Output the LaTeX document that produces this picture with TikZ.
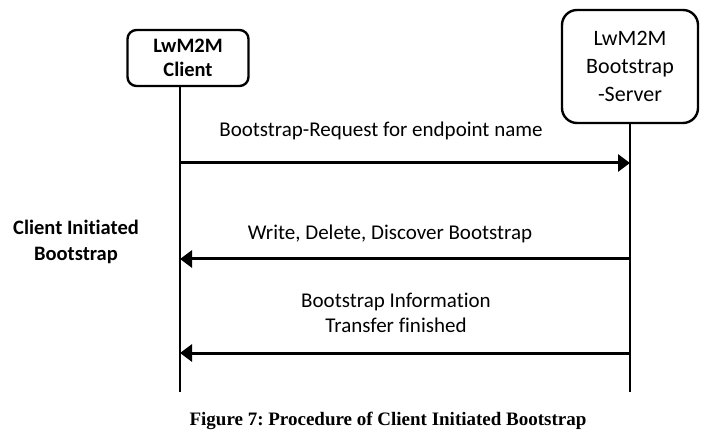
\documentclass[tikz,border=0pt]{standalone}
\usepackage{fontspec}
\setmainfont{Carlito}[Ligatures=NoCommon]
\newfontfamily\captionserif{Liberation Serif}
\usetikzlibrary{arrows.meta,positioning}
\frenchspacing

\begin{document}
\begin{tikzpicture}[x=1pt, y=-1pt, every node/.style={font=\fontsize{21}{25}\selectfont}, party/.style={draw,line width=2.4pt,align=center,inner sep=0pt}, life/.style={line width=2.4pt}, msg/.style={line width=3pt,-{Triangle[length=12pt,width=17pt]}}, lbl/.style={align=center}]
\useasboundingbox (0,0) rectangle (709,443);
\node[party,rounded corners=9pt,minimum width=121pt,minimum height=56pt,font=\bfseries\fontsize{20.5}{24}\selectfont] (client) at (188,58) {LwM2M\\Client};
\node[party,rounded corners=15pt,minimum width=136pt,minimum height=113pt,font=\fontsize{22}{28}\selectfont] (server) at (630,66.5) {LwM2M\\Bootstrap\\-Server};
\coordinate (cbot) at (180,392);
\coordinate (sbot) at (630,392);
\draw[life] (client.south -| cbot)--(cbot);\draw[life] (server.south)--(sbot);
% messages
\coordinate (req c) at (180,163);\coordinate (req s) at (630,163);
\coordinate (wr c) at (180,259);\coordinate (wr s) at (630,259);
\coordinate (fin c) at (180,353);\coordinate (fin s) at (630,353);
\draw[msg] (req c)--(req s);\draw[msg] (wr s)--(wr c);\draw[msg] (fin s)--(fin c);
\node[lbl] (reqlbl) at (381,131) {Bootstrap-Request for endpoint name};
\node[lbl] (wrlbl) at (390,234) {Write, Delete, Discover Bootstrap};
\node[lbl] (finlbl) at (396,313) {Bootstrap Information\\Transfer finished};
\node[lbl,font=\bfseries\fontsize{20.5}{26}\selectfont] (phase) at (76,242) {Client Initiated\\Bootstrap};
\node (caption) at (388,421) {\captionserif\bfseries\fontsize{19}{23}\selectfont Figure 7: Procedure of Client Initiated Bootstrap};
\end{tikzpicture}
\end{document}
